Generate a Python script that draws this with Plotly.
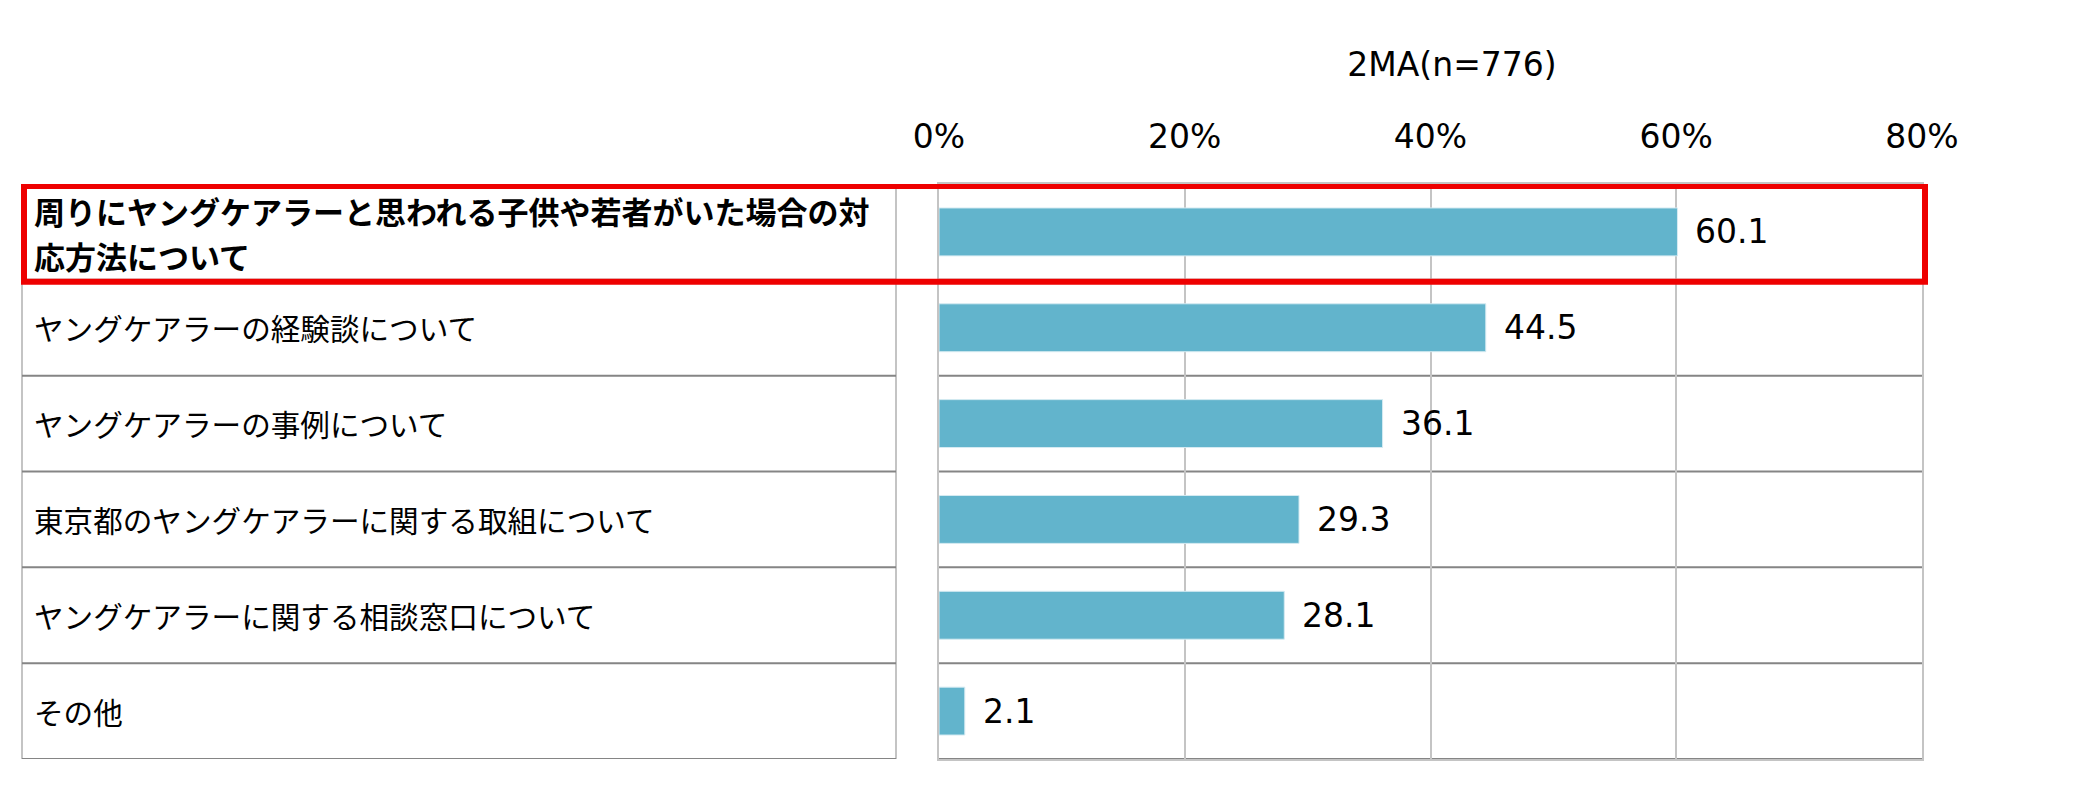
import plotly.graph_objects as go

# ---- data ----
categories = [
    "周りにヤングケアラーと思われる子供や若者がいた場合の対<br>応方法について",
    "ヤングケアラーの経験談について",
    "ヤングケアラーの事例について",
    "東京都のヤングケアラーに関する取組について",
    "ヤングケアラーに関する相談窓口について",
    "その他",
]
values = [60.1, 44.5, 36.1, 29.3, 28.1, 2.1]
highlight = [True, False, False, False, False, False]
tick_values = [0, 20, 40, 60, 80]
tick_labels = ["0%", "20%", "40%", "60%", "80%"]
title_text = "2MA(n=776)"

W, H = 2073, 801
BAR = "#62b4cc"
LIGHT = "#c4c4c4"
DARK = "#858585"
LAT = "DejaVu Sans"
CJK = "Noto Sans CJK JP"
LINE_GAP = 45

ids = list(range(len(categories)))

fig = go.Figure()
fig.add_trace(go.Bar(
    x=values, y=ids, orientation="h", width=0.5,
    marker=dict(color=BAR, line=dict(color="#d6ebf2", width=1)),
    hoverinfo="skip", showlegend=False,
))

ann = []
for i, (c, v, h) in enumerate(zip(categories, values, highlight)):
    lines = c.split("<br>")
    nl = len(lines)
    for j, ln in enumerate(lines):
        ann.append(dict(
            x=32 / W, xref="paper", y=i, yref="y", xanchor="left", yanchor="middle",
            yshift=((nl - 1) / 2 - j) * LINE_GAP - (1 if h else 0),
            text=f"<b>{ln}</b>" if h else ln, align="left", showarrow=False,
            font=dict(family=CJK, size=31 if h else 29.6, color="black"),
        ))
    ann.append(dict(
        x=v, xref="x", y=i, yref="y", xanchor="left", yanchor="middle",
        xshift=16, text=f"{v:.1f}", showarrow=False,
        font=dict(family=LAT, size=33, color="black"),
    ))

shapes = []
tl, tr = 22 / W, 896 / W
n = len(categories)
# table verticals
for xx in (tl, tr):
    shapes.append(dict(type="line", xref="paper", yref="y", x0=xx, x1=xx,
                       y0=-0.5, y1=n - 0.5, line=dict(color=LIGHT, width=2), layer="below"))
# row separators (table and plot)
for k in range(n):
    yy = k + 0.5
    shapes.append(dict(type="line", xref="paper", yref="y", x0=tl, x1=tr,
                       y0=yy, y1=yy, line=dict(color=DARK, width=2), layer="below"))
    shapes.append(dict(type="line", xref="x domain", yref="y", x0=0, x1=1,
                       y0=yy, y1=yy, line=dict(color=DARK, width=2), layer="below"))
# highlight box
for i, h in enumerate(highlight):
    if h:
        shapes.append(dict(type="rect", xref="paper", yref="y",
                           x0=24 / W, x1=1925 / W, y0=i - 0.48, y1=i + 0.52,
                           line=dict(color="#ee0000", width=6), layer="above"))

fig.update_layout(
    template="none",
    width=W, height=H, autosize=False,
    margin=dict(l=0, r=0, t=0, b=0, pad=0, autoexpand=False),
    paper_bgcolor="white", plot_bgcolor="white",
    title=dict(text=title_text, x=1452 / W, xref="paper", xanchor="center",
               y=1 - 64 / H, yref="paper", yanchor="middle", automargin=False,
               font=dict(family=LAT, size=33, color="black")),
    xaxis=dict(domain=[939 / W, 1922 / W], range=[0, 80], side="top",
               tickvals=tick_values, ticktext=tick_labels,
               tickfont=dict(family=LAT, size=33, color="black"),
               showgrid=True, gridcolor=LIGHT, gridwidth=2,
               zeroline=False, showline=True, linecolor=LIGHT, linewidth=2,
               mirror=True, ticks="", ticklabelstandoff=21, fixedrange=True,
               automargin=False),
    yaxis=dict(domain=[(H - 759) / H, (H - 184) / H], range=[n - 0.5, -0.5],
               showticklabels=False, showgrid=False, zeroline=False,
               showline=True, linecolor=LIGHT, linewidth=2, mirror=True,
               ticks="", fixedrange=True, automargin=False),
    annotations=ann, shapes=shapes,
)

fig.write_html("out.html", config={"displayModeBar": False},
               post_script="document.body.style.margin='0';document.body.style.overflow='hidden';")
